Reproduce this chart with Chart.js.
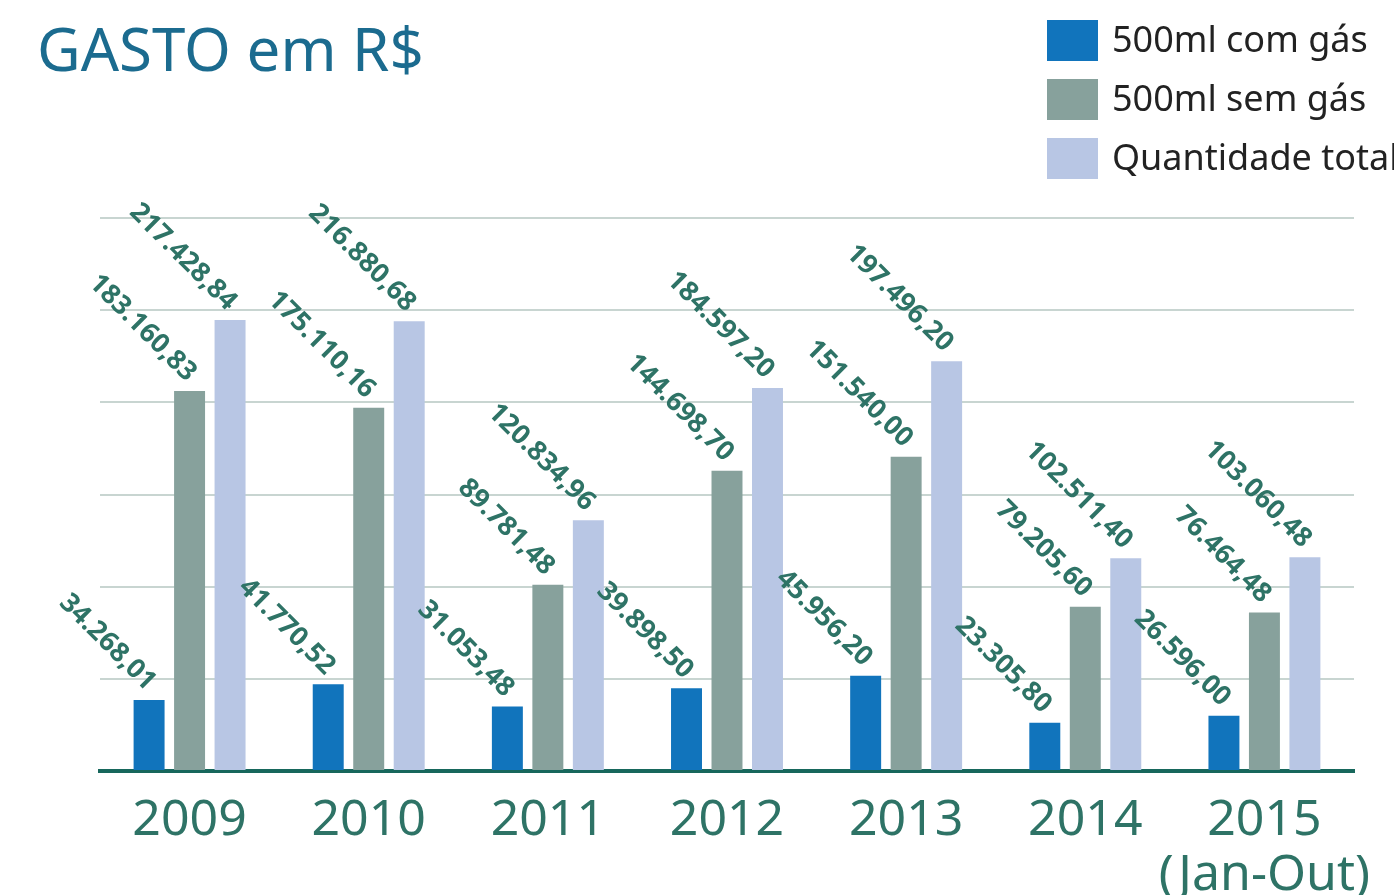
<!DOCTYPE html>
<html>
<head>
<meta charset="utf-8">
<script src="https://cdn.jsdelivr.net/npm/chart.js@4.4.1/dist/chart.umd.min.js"></script>
<style>
    html, body { margin: 0; padding: 0; background: #fff; }
    #wrap { width: 1394px; height: 895px; }
</style>
</head>
<body>
<div id="wrap"><canvas id="chartCanvas" width="1394" height="895"></canvas></div>
<script>
// anos e valores (R$)
const years = ['2009', '2010', '2011', '2012', '2013', '2014', ['2015', '(Jan-Out)']]
const comGas = [34268.01, 41770.52, 31053.48, 39898.50, 45956.20, 23305.80, 26596.00]
const semGas = [183160.83, 175110.16, 89781.48, 144698.70, 151540.00, 79205.60, 76464.48]
const total = [217428.84, 216880.68, 120834.96, 184597.20, 197496.20, 102511.40, 103060.48]
const seriesNames = ['500ml com gás', '500ml sem gás', 'Quantidade total']
const seriesColors = ['#1174bc', '#87a19c', '#b8c6e4']

const title = 'GASTO em R$'
const textColor = '#2e7366'

// 217428.84 -> 217.428,84
const fmt = (v) => {
    let parts = v.toFixed(2).split('.')
    let int = parts[0].replace(/\B(?=(\d{3})+(?!\d))/g, '.')
    return int + ',' + parts[1]
}

const valueLabels = {
    id: 'valueLabels',
    afterDatasetsDraw(chart) {
        const ctx = chart.ctx
        ctx.save()
        ctx.fillStyle = textColor
        ctx.font = '700 27px "Open Sans"'
        ctx.textAlign = 'right'
        ctx.textBaseline = 'middle'
        chart.data.datasets.forEach((ds, i) => {
            chart.getDatasetMeta(i).data.forEach((bar, j) => {
                ctx.save()
                ctx.translate(bar.x + 2, bar.y - 14)
                ctx.rotate(Math.PI / 4)
                ctx.fillText(fmt(ds.data[j]), 0, 0)
                ctx.restore()
            })
        })
        ctx.restore()
    }
}

const titleAndLegend = {
    id: 'titleAndLegend',
    afterDraw(chart) {
        const ctx = chart.ctx
        ctx.save()
        ctx.fillStyle = '#1b6b8f'
        ctx.font = '60px "Noto Sans"'
        ctx.textAlign = 'left'
        ctx.textBaseline = 'alphabetic'
        ctx.fillText(title, 37, 71)
        ctx.font = '36px "Noto Sans"'
        ctx.textBaseline = 'middle'
        chart.data.datasets.forEach((ds, i) => {
            let top = 20 + i * 59
            ctx.fillStyle = ds.backgroundColor
            ctx.fillRect(1047, top, 51, 41)
            ctx.fillStyle = '#222'
            ctx.fillText(ds.label, 1112, top + 22)
        })
        ctx.restore()
    }
}

const chartData = {
    labels: years,
    datasets: [comGas, semGas, total].map((d, i) => ({
        label: seriesNames[i],
        data: d,
        backgroundColor: seriesColors[i],
        categoryPercentage: 0.678,
        barPercentage: 0.765
    }))
}

const config = {
    type: 'bar',
    data: chartData,
    options: {
        responsive: false,
        animation: false,
        layout: {
            padding: { left: 100, right: 40, top: 218, bottom: -22 }
        },
        plugins: {
            legend: { display: false },
            title: { display: false },
            tooltip: { enabled: false }
        },
        scales: {
            x: {
                z: 1,
                grid: { display: false },
                border: { display: true, color: '#17675c', width: 4 },
                ticks: {
                    color: textColor,
                    font: { family: 'Noto Sans', size: 50, lineHeight: 1.1 },
                    padding: 14,
                    maxRotation: 0,
                    autoSkip: false
                }
            },
            y: {
                min: 0,
                max: 266600,
                ticks: { display: false, stepSize: 44433 },
                grid: { color: '#c8d5d1', lineWidth: 2, drawTicks: false },
                border: { display: false }
            }
        }
    },
    plugins: [valueLabels, titleAndLegend]
}

const myChart = new Chart(document.getElementById('chartCanvas'), config)
</script>
</body>
</html>
